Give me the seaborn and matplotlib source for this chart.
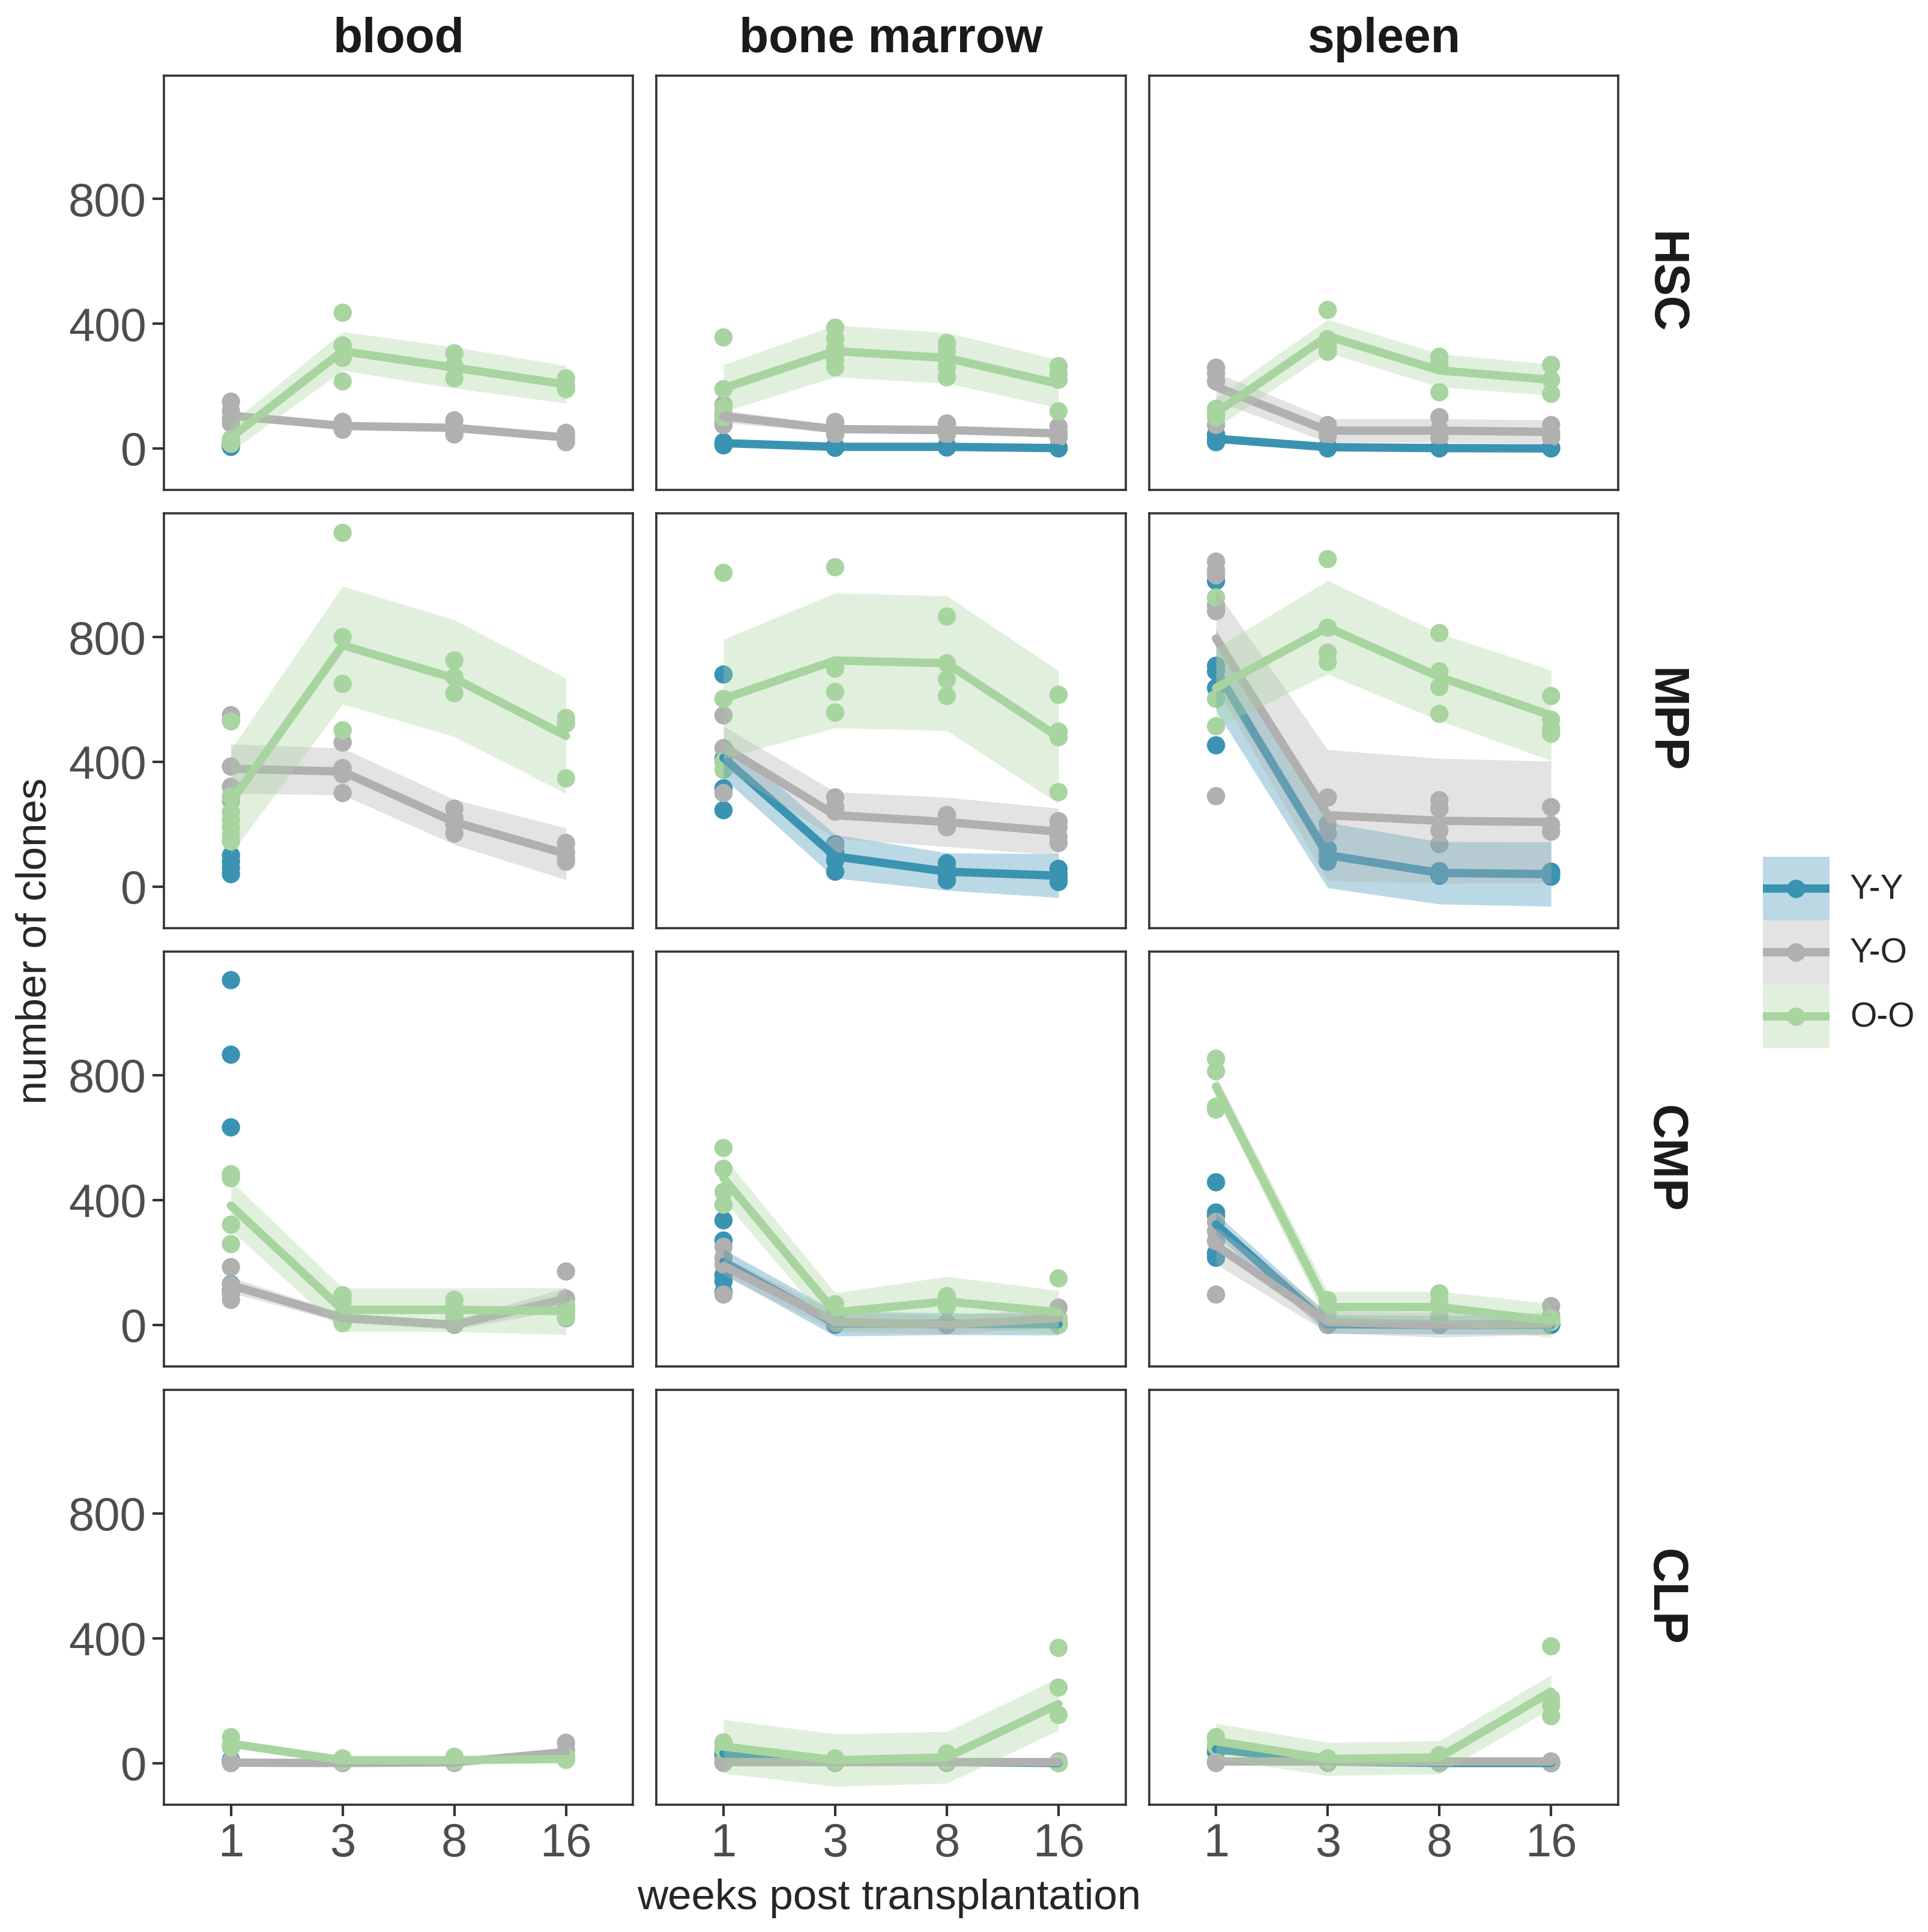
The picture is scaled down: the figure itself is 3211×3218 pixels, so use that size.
import numpy as np
import pandas as pd
import matplotlib.pyplot as plt
import seaborn as sns
from matplotlib.patches import Rectangle
from matplotlib.lines import Line2D
from matplotlib.legend_handler import HandlerBase

nan = np.nan

WEEKS = ["1", "3", "8", "16"]
TISSUES = ["blood", "bone marrow", "spleen"]
CELLS = ["HSC", "MPP", "CMP", "CLP"]
GROUPS = ["Y-Y", "Y-O", "O-O"]
COLORS = {"Y-Y": "#3b93b2", "Y-O": "#b0b0b0", "O-O": "#a8d4a0"}

# --- replicate points / mean line / ribbon half-width, per panel ---
hsc_blood_points = {"Y-Y": [[5, 10, 15], [], [], []],
                    "Y-O": [[150, 120, 95, 80], [85, 70, 60], [90, 65, 45], [50, 35, 20]],
                    "O-O": [[15, 25, 30], [435, 330, 290, 215], [305, 265, 225], [225, 200, 190]]}
hsc_blood_mean = {"Y-Y": [nan, nan, nan, nan], "Y-O": [105, 72, 66, 35], "O-O": [35, 312, 259, 205]}
hsc_blood_se = {"Y-Y": [nan, nan, nan, nan], "Y-O": [15, 10, 12, 12], "O-O": [45, 62, 66, 60]}

hsc_bm_points = {"Y-Y": [[10, 15, 20], [2, 5, 8], [3, 6, 9], [0, 1, 3]],
                 "Y-O": [[140, 110, 85, 75], [85, 65, 45, 55], [80, 60, 45, 50], [70, 50, 35, 40]],
                 "O-O": [[356, 190, 130, 100], [387, 352, 320, 285, 260], [338, 312, 280, 259, 228], [264, 240, 220, 119]]}
hsc_bm_mean = {"Y-Y": [17, 5, 5, 1], "Y-O": [103, 62, 59, 48], "O-O": [193, 312, 290, 207]}
hsc_bm_se = {"Y-Y": [5, 5, 5, 5], "Y-O": [20, 12, 12, 12], "O-O": [75, 83, 81, 77]}

hsc_spleen_points = {"Y-Y": [[45, 30, 20], [5, 0, 8], [0, 3, 2], [0, 2, 1]],
                     "Y-O": [[259, 240, 215, 75], [75, 55, 40], [100, 60, 35], [75, 50, 35]],
                     "O-O": [[127, 110, 100], [444, 350, 335, 320, 310], [294, 272, 180], [268, 220, 175]]}
hsc_spleen_mean = {"Y-Y": [31, 4, 1, 0], "Y-O": [198, 57, 57, 53], "O-O": [114, 360, 250, 220]}
hsc_spleen_se = {"Y-Y": [8, 6, 6, 6], "Y-O": [45, 38, 38, 38], "O-O": [48, 53, 53, 50]}

mpp_blood_points = {"Y-Y": [[100, 80, 60, 40], [], [], []],
                    "Y-O": [[550, 535, 385, 320, 275], [462, 380, 360, 300], [250, 220, 200, 170], [140, 110, 90, 80]],
                    "O-O": [[530, 290, 240, 215, 190, 165, 145], [1134, 800, 650, 501], [725, 672, 620], [541, 523, 347]]}
mpp_blood_mean = {"Y-Y": [nan, nan, nan, nan], "Y-O": [378, 369, 207, 105], "O-O": [272, 774, 668, 483]}
mpp_blood_se = {"Y-Y": [nan, nan, nan, nan], "Y-O": [79, 75, 72, 83], "O-O": [167, 189, 187, 185]}

mpp_bm_points = {"Y-Y": [[680, 410, 315, 245], [136, 110, 84, 48], [75, 55, 40, 20], [57, 40, 30, 15]],
                 "Y-O": [[549, 444, 300], [286, 255, 240, 130], [230, 205, 190], [210, 190, 160, 140]],
                 "O-O": [[1006, 602, 400, 374], [1024, 699, 624, 558], [866, 716, 664, 611], [615, 497, 479, 303]]}
mpp_bm_mean = {"Y-Y": [413, 97, 48, 35], "Y-O": [448, 229, 207, 176], "O-O": [602, 725, 716, 479]}
mpp_bm_se = {"Y-Y": [65, 70, 60, 70], "Y-O": [66, 75, 79, 75], "O-O": [191, 216, 216, 213]}

mpp_spleen_points = {"Y-Y": [[980, 708, 690, 637, 453], [120, 100, 80], [50, 45, 35], [48, 40, 32]],
                     "Y-O": [[1042, 1015, 998, 901, 883, 290], [286, 200, 170], [277, 250, 180, 136], [255, 198, 176]],
                     "O-O": [[927, 602, 514], [1050, 830, 750, 720], [813, 690, 640, 554], [611, 535, 505, 490]]}
mpp_spleen_mean = {"Y-Y": [694, 101, 44, 40], "Y-O": [795, 229, 211, 207], "O-O": [637, 831, 672, 549]}
mpp_spleen_se = {"Y-Y": [130, 105, 100, 103], "Y-O": [155, 210, 200, 195], "O-O": [127, 150, 140, 145]}

cmp_blood_points = {"Y-Y": [[1105, 866, 633, 130, 110], [], [], []],
                    "Y-O": [[185, 127, 100, 80], [30, 20, 10], [5, 0, 0], [171, 84, 60, 21]],
                    "O-O": [[483, 470, 321, 259], [95, 75, 20, 5], [80, 60, 30, 20], [60, 50, 40, 25]]}
cmp_blood_mean = {"Y-Y": [nan, nan, nan, nan], "Y-O": [127, 22, 0, 84], "O-O": [382, 48, 48, 44]}
cmp_blood_se = {"Y-Y": [nan, nan, nan, nan], "Y-O": [25, 15, 15, 35], "O-O": [79, 70, 70, 75]}

cmp_bm_points = {"Y-Y": [[335, 270, 160, 140, 105], [10, 5, 0], [5, 3, 0], [5, 0, 2]],
                 "Y-O": [[250, 215, 193, 97], [15, 5, 5], [0, 0, 5], [55, 20, 0]],
                 "O-O": [[567, 500, 426, 385], [66, 40, 30, 25], [92, 75, 58], [149, 15, 0, 0]]}
cmp_bm_mean = {"Y-Y": [202, 4, 3, 2], "Y-O": [189, 9, 0, 22], "O-O": [470, 40, 75, 40]}
cmp_bm_se = {"Y-Y": [40, 40, 35, 35], "Y-O": [30, 30, 30, 30], "O-O": [70, 62, 80, 70]}

cmp_spleen_points = {"Y-Y": [[457, 360, 350, 215, 230], [5, 0, 0], [0, 0, 0], [0, 0, 0]],
                     "Y-O": [[330, 300, 268, 97], [10, 5, 0], [0, 5, 0], [60, 30, 15]],
                     "O-O": [[853, 813, 699, 690], [79, 55, 40], [101, 75, 30, 20], [20, 10, 10]]}
cmp_spleen_mean = {"Y-Y": [322, 2, 0, 0], "Y-O": [255, 9, 0, 4], "O-O": [764, 57, 57, 13]}
cmp_spleen_se = {"Y-Y": [35, 30, 30, 30], "Y-O": [60, 35, 40, 35], "O-O": [35, 50, 50, 55]}

clp_blood_points = {"Y-Y": [[10, 5], [], [], []],
                    "Y-O": [[5, 0, 0], [0, 0], [0, 5], [65, 40, 20, 15]],
                    "O-O": [[83, 57, 50], [15, 5, 5], [20, 5, 5], [10, 15, 20]]}
clp_blood_mean = {"Y-Y": [nan, nan, nan, nan], "Y-O": [1, 0, 2, 35], "O-O": [62, 9, 9, 13]}
clp_blood_se = {"Y-Y": [nan, nan, nan, nan], "Y-O": [8, 8, 8, 15], "O-O": [10, 8, 8, 8]}

clp_bm_points = {"Y-Y": [[35, 25], [5, 8], [3, 2], [0, 0]],
                 "Y-O": [[5, 0], [0, 3], [0, 3], [5, 0]],
                 "O-O": [[66, 50, 45], [15, 5, 8], [31, 15, 8], [369, 242, 154, 0]]}
clp_bm_mean = {"Y-Y": [30, 6, 3, 0], "Y-O": [3, 3, 3, 3], "O-O": [53, 9, 18, 189]}
clp_bm_se = {"Y-Y": [10, 8, 8, 8], "Y-O": [5, 5, 5, 5], "O-O": [86, 84, 83, 84]}

clp_spleen_points = {"Y-Y": [[50, 35], [5, 3], [0, 2], [0, 0]],
                     "Y-O": [[5, 0], [0, 3], [0, 2], [5, 0]],
                     "O-O": [[83, 75, 55], [15, 10, 13], [25, 15, 12], [374, 207, 185, 150]]}
clp_spleen_mean = {"Y-Y": [44, 5, 0, 0], "Y-O": [4, 4, 4, 4], "O-O": [70, 13, 18, 229]}
clp_spleen_se = {"Y-Y": [12, 8, 8, 8], "Y-O": [5, 5, 5, 5], "O-O": [57, 53, 53, 53]}

PANELS = {
    ("HSC", "blood"): (hsc_blood_points, hsc_blood_mean, hsc_blood_se),
    ("HSC", "bone marrow"): (hsc_bm_points, hsc_bm_mean, hsc_bm_se),
    ("HSC", "spleen"): (hsc_spleen_points, hsc_spleen_mean, hsc_spleen_se),
    ("MPP", "blood"): (mpp_blood_points, mpp_blood_mean, mpp_blood_se),
    ("MPP", "bone marrow"): (mpp_bm_points, mpp_bm_mean, mpp_bm_se),
    ("MPP", "spleen"): (mpp_spleen_points, mpp_spleen_mean, mpp_spleen_se),
    ("CMP", "blood"): (cmp_blood_points, cmp_blood_mean, cmp_blood_se),
    ("CMP", "bone marrow"): (cmp_bm_points, cmp_bm_mean, cmp_bm_se),
    ("CMP", "spleen"): (cmp_spleen_points, cmp_spleen_mean, cmp_spleen_se),
    ("CLP", "blood"): (clp_blood_points, clp_blood_mean, clp_blood_se),
    ("CLP", "bone marrow"): (clp_bm_points, clp_bm_mean, clp_bm_se),
    ("CLP", "spleen"): (clp_spleen_points, clp_spleen_mean, clp_spleen_se),
}

# long tables
pt_rows, sum_rows = [], []
for (cell, tissue), (pts, mean, se) in PANELS.items():
    for g in GROUPS:
        for i, wk in enumerate(WEEKS):
            for v in pts[g][i]:
                pt_rows.append(dict(cell=cell, tissue=tissue, group=g, pos=i, value=v))
            sum_rows.append(dict(cell=cell, tissue=tissue, group=g, pos=i,
                                 mean=mean[g][i], se=se[g][i]))
points = pd.DataFrame(pt_rows)
summary = pd.DataFrame(sum_rows)


class RibbonKey(HandlerBase):
    # legend key: ribbon square with the line and a point centred on it
    def create_artists(self, legend, orig_handle, xdescent, ydescent, width, height, fontsize, trans):
        col = orig_handle.get_color()
        x0, y0 = -xdescent, -ydescent
        yc = y0 + height / 2
        rect = Rectangle((x0, y0), width, height, facecolor=col, alpha=0.35, lw=0, transform=trans)
        line = Line2D([x0, x0 + width], [yc, yc], color=col, lw=5, solid_capstyle="butt", transform=trans)
        dot = Line2D([x0 + width / 2], [yc], marker="o", markersize=10, color=col, lw=0, transform=trans)
        return [rect, line, dot]


sns.set_theme(style="white")
plt.rcParams['font.family'] = ['Liberation Sans', 'DejaVu Sans']

fig, axes = plt.subplots(4, 3, figsize=(16.06, 16.09), dpi=200, sharex=True, sharey=True)
fig.subplots_adjust(left=0.085, right=0.839, top=0.961, bottom=0.066, wspace=0.05, hspace=0.057)

for r, cell in enumerate(CELLS):
    for c, tissue in enumerate(TISSUES):
        ax = axes[r, c]
        p = points[(points.cell == cell) & (points.tissue == tissue)]
        sns.scatterplot(data=p, x="pos", y="value", hue="group", hue_order=GROUPS,
                        palette=COLORS, s=120, linewidth=0, legend=False, ax=ax, zorder=2)
        s = summary[(summary.cell == cell) & (summary.tissue == tissue)]
        for g in GROUPS:
            d = s[s.group == g].dropna()
            if len(d) < 2:
                continue
            ax.fill_between(d["pos"], d["mean"] - d["se"], d["mean"] + d["se"],
                            color=COLORS[g], alpha=0.35, lw=0, zorder=3)
            sns.lineplot(data=d, x="pos", y="mean", color=COLORS[g], lw=5,
                         errorbar=None, ax=ax, zorder=3)

        ax.set_xlim(-0.6, 3.6)
        ax.set_ylim(-133, 1196)
        ax.set_xticks(range(4))
        ax.set_xticklabels(WEEKS)
        ax.set_yticks([0, 400, 800])
        ax.set_xlabel("")
        ax.set_ylabel("")
        for sp in ax.spines.values():
            sp.set_visible(True)
            sp.set_color("#333333")
            sp.set_linewidth(1.3)
        ax.tick_params(bottom=(r == 3), left=(c == 0), direction="out", length=7,
                       width=1.5, color="#333333", labelcolor="#4d4d4d", labelsize=28)

        if r == 0:
            ax.set_title(tissue, fontsize=29, fontweight="bold", pad=14, color="#1a1a1a")
        if c == 2:
            ax.text(1.05, 0.5, cell, transform=ax.transAxes, rotation=270, va="center",
                    ha="left", fontsize=29, fontweight="bold", color="#1a1a1a")

fig.text(0.461, 0.007, "weeks post transplantation", ha="center", va="bottom", fontsize=25.5)
fig.text(0.008, 0.513, "number of clones", rotation=90, ha="left", va="center", fontsize=25.5)

handles = [Line2D([], [], color=COLORS[g]) for g in GROUPS]
fig.legend(handles, GROUPS, loc="center left", bbox_to_anchor=(0.914, 0.507),
           handler_map={Line2D: RibbonKey()},
           frameon=False, fontsize=20.5, handlelength=1.95, handleheight=2.5,
           labelspacing=0.0, handletextpad=0.6, borderpad=0, borderaxespad=0)

fig.savefig("out.png", dpi=200, facecolor="white")
